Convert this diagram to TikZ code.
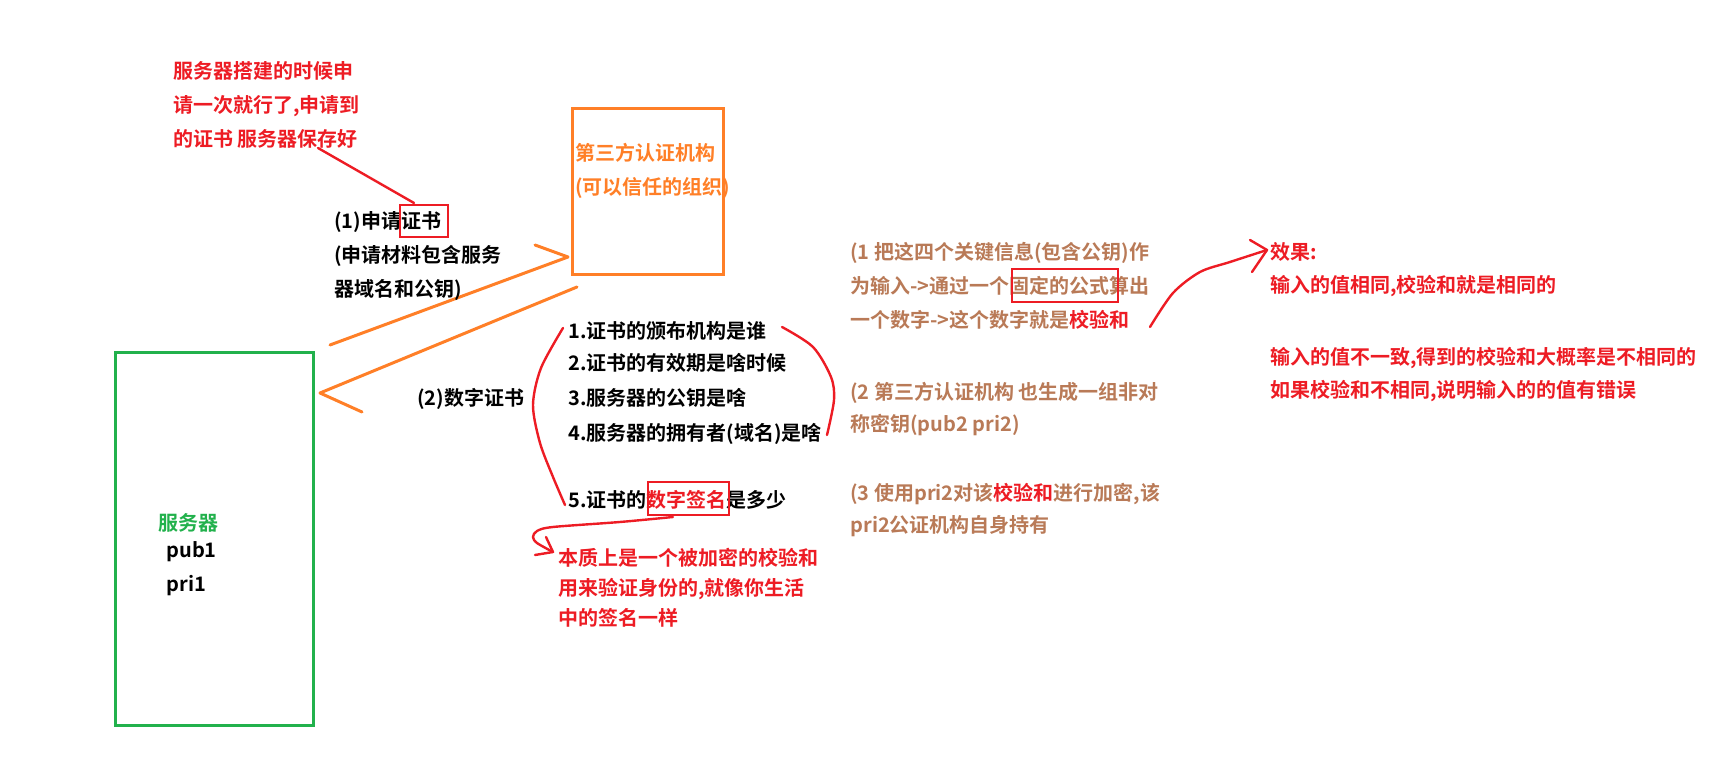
\documentclass[tikz,border=0pt]{standalone}
\usepackage{fontspec}
\setmainfont{Noto Sans CJK SC}[BoldFont={Noto Sans CJK SC Bold}]
\usetikzlibrary{positioning}

\definecolor{penRed}{HTML}{ED1C24}
\definecolor{penOrange}{HTML}{FF7F27}
\definecolor{penGreen}{HTML}{22B14C}
\definecolor{penBrown}{HTML}{B97A57}

\begin{document}
\begin{tikzpicture}[
  x=0.5pt, y=-0.5pt,
  txt/.style={anchor=base west, inner sep=0pt, align=left, font=\bfseries\fontsize{10pt}{17pt}\selectfont},
  entity/.style={rectangle, line width=1.5pt, inner sep=0pt},
  hlbox/.style={rectangle, draw=penRed, line width=1.3pt, inner sep=0pt},
  redpen/.style={draw=penRed, line width=1.2pt, line cap=round, line join=round},
  orangepen/.style={draw=penOrange, line width=1.5pt, line cap=round, line join=round}
]
  \useasboundingbox (0,0) rectangle (1735,763);

  % the two parties (multi-line texts sit on their last baseline)
  \node[entity, draw=penGreen, minimum width=99pt, minimum height=186.5pt] (server) at (214,539.5) {};
  \node[entity, draw=penOrange, minimum width=75.5pt, minimum height=83pt] (ca) at (647.5,192) {};

  \node[txt, text=penOrange] (caName) at (575,195) {第三方认证机构\\(可以信任的组织)};
  \node[txt, text=penGreen] (srvName) at (158,531) {服务器};
  \node[txt] (pub) at (166,558) {pub1};
  \node[txt] (pri) at (166,592) {pri1};

  % request and answer
  \coordinate (reqTail) at (330,345);
  \coordinate (reqTip) at (568,257);
  \coordinate (ansTail) at (577,287);
  \coordinate (ansTip) at (320,393);
  \draw[orangepen] (reqTail) -- (reqTip) -- ++(-33,-12);
  \draw[orangepen] (ansTail) -- (ansTip) -- ++(42,19);

  \node[txt] (apply) at (334,297) {(1)申请证书\\(申请材料包含服务\\器域名和公钥)};
  \node[hlbox, minimum width=24pt, minimum height=16pt] (certBox) at (424,221) {};
  \node[txt, text=penRed] (note) at (173,147) {服务器搭建的时候申\\请一次就行了,申请到\\的证书 服务器保存好};
  \coordinate (noteEnd) at (318,148);
  \coordinate (certEnd) at (414,203);
  \draw[redpen] (noteEnd) -- (certEnd);

  \node[txt] (issue) at (417,406) {(2)数字证书};

  % certificate content
  \node[txt] (item1) at (568,339) {1.证书的颁布机构是谁};
  \node[txt] (item2) at (568,371) {2.证书的有效期是啥时候};
  \node[txt] (item3) at (568,406) {3.服务器的公钥是啥};
  \node[txt] (item4) at (568,441) {4.服务器的拥有者(域名)是啥};
  \node[txt] (item5) at (568,508) {5.证书的{\color{penRed}数字签名}是多少};
  \node[hlbox, minimum width=40.5pt, minimum height=16.5pt] (signBox) at (688.5,498.5) {};

  \coordinate (braceTop) at (563,328);
  \coordinate (braceBot) at (565,505);
  \draw[redpen] plot[smooth] coordinates {(braceTop) (541,368) (533,405) (540,443) (553,477) (braceBot)};
  \coordinate (rbraceTop) at (782,327);
  \coordinate (rbraceBot) at (827,435);
  \draw[redpen] plot[smooth] coordinates {(rbraceTop) (813,347) (831,377) (834,400) (rbraceBot)};

  \node[txt, text=penRed, font=\bfseries\fontsize{10pt}{15pt}\selectfont] (signNote) at (558,626) {本质上是一个被加密的校验和\\用来验证身份的,就像你生活\\中的签名一样};
  \coordinate (signFrom) at (673,517);
  \coordinate (signTip) at (553,552);
  \draw[redpen] plot[smooth] coordinates {(signFrom) (620,522) (553,527) (537,531) (533,537) (537,543) (signTip)};
  \draw[redpen] (546,537) -- (signTip) -- (535,555);

  % how the signature is made
  \node[txt, text=penBrown] (step1) at (850,328) {(1 把这四个关键信息(包含公钥)作\\为输入->通过一个固定的公式算出\\一个数字->这个数字就是{\color{penRed}校验和}};
  \node[hlbox, minimum width=53pt, minimum height=16.5pt] (formulaBox) at (1065,285.5) {};
  \node[txt, text=penBrown, font=\bfseries\fontsize{10pt}{16pt}\selectfont] (step2) at (850,432) {(2 第三方认证机构 也生成一组非对\\称密钥(pub2 pri2)};
  \node[txt, text=penBrown, font=\bfseries\fontsize{10pt}{16pt}\selectfont] (step3) at (850,533) {(3 使用pri2对该{\color{penRed}校验和}进行加密,该\\pri2公证机构自身持有};

  \node[txt, text=penRed, font=\bfseries\fontsize{10pt}{16.5pt}\selectfont] (effect) at (1270,293) {效果:\\输入的值相同,校验和就是相同的};
  \node[txt, text=penRed, font=\bfseries\fontsize{10pt}{16.5pt}\selectfont] (effectMore) at (1270,398) {输入的值不一致,得到的校验和大概率是不相同的\\如果校验和不相同,说明输入的的值有错误};
  \coordinate (sumEnd) at (1150,327);
  \coordinate (effectTip) at (1267,250);
  \draw[redpen] plot[smooth] coordinates {(sumEnd) (1173,293) (1200,272) (1230,262) (effectTip)};
  \draw[redpen] (1250,240) -- (effectTip) -- (1252,272);
\end{tikzpicture}
\end{document}
